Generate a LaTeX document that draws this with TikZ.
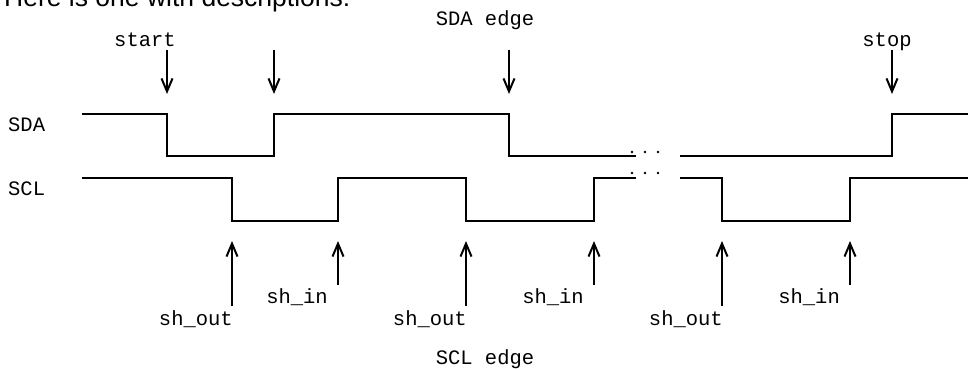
\documentclass[tikz,border=0pt]{standalone}
\usepackage{fontspec}
\setmainfont{Liberation Sans}
\newfontfamily\monof{Liberation Mono}
\usetikzlibrary{arrows.meta}
\begin{document}
\begin{tikzpicture}[x=1pt,y=-1pt,
 wave/.style={line width=2.2pt, line join=miter},
 arr/.style={line width=2pt,-{Straight Barb[length=13pt,width=11pt,line width=2pt]}},
 lbl/.style={font=\monof\fontsize{20.5}{24}\selectfont, inner sep=0pt},
 dot/.style={fill=black}]
\useasboundingbox (0,0) rectangle (968,369);
\begin{scope}
\clip (0,0) rectangle (968,369);
\node[anchor=base west, inner sep=0pt, font=\fontsize{26.5}{30}\selectfont] (hdr) at (4,7) {Here is one with descriptions:};
\end{scope}

% signal names
\node[lbl, anchor=base west] (sda) at (8,131) {SDA};
\node[lbl, anchor=base west] (scl) at (8,195) {SCL};

% waveforms
\draw[wave] (82,114) -- (167,114) -- (167,156) -- (274,156) -- (274,114) -- (509,114) -- (509,156) -- (636,156);
\draw[wave] (680,156) -- (892,156) -- (892,114) -- (968,114);
\draw[wave] (82,178) -- (232,178) -- (232,221) -- (338,221) -- (338,178) -- (466,178) -- (466,221) -- (594,221) -- (594,178) -- (636,178);
\draw[wave] (680,178) -- (722,178) -- (722,221) -- (850,221) -- (850,178) -- (968,178);

% ellipsis dots
\foreach \x in {632,645,658}{
  \fill[dot] (\x,152) circle (1.4pt);
  \fill[dot] (\x,173) circle (1.4pt);
}

% top labels and arrows
\node[lbl, anchor=base] (start) at (145,47) {start};
\node[lbl, anchor=base] (sdaedge) at (485,26) {SDA edge};
\node[lbl, anchor=base] (stop) at (887,47) {stop};
\coordinate (t1a) at (167,50); \coordinate (t1b) at (167,94);
\coordinate (t2a) at (274,50); \coordinate (t2b) at (274,94);
\coordinate (t3a) at (509,50); \coordinate (t3b) at (509,94);
\coordinate (t4a) at (892,50); \coordinate (t4b) at (892,94);
\draw[arr] (t1a) -- (t1b);
\draw[arr] (t2a) -- (t2b);
\draw[arr] (t3a) -- (t3b);
\draw[arr] (t4a) -- (t4b);

% bottom arrows
\coordinate (b1a) at (232,306); \coordinate (b1b) at (232,241);
\coordinate (b2a) at (338,285); \coordinate (b2b) at (338,241);
\coordinate (b3a) at (466,306); \coordinate (b3b) at (466,241);
\coordinate (b4a) at (594,285); \coordinate (b4b) at (594,241);
\coordinate (b5a) at (722,306); \coordinate (b5b) at (722,241);
\coordinate (b6a) at (850,285); \coordinate (b6b) at (850,241);
\foreach \i in {1,...,6}{ \draw[arr] (b\i a) -- (b\i b); }

% bottom labels
\node[lbl, anchor=base east] (out1) at (233,325) {sh\_out};
\node[lbl, anchor=base east] (in1) at (328,303) {sh\_in};
\node[lbl, anchor=base east] (out2) at (467,325) {sh\_out};
\node[lbl, anchor=base east] (in2) at (584,303) {sh\_in};
\node[lbl, anchor=base east] (out3) at (723,325) {sh\_out};
\node[lbl, anchor=base east] (in3) at (840,303) {sh\_in};
\node[lbl, anchor=base] (scledge) at (485,364) {SCL edge};
\end{tikzpicture}
\end{document}
